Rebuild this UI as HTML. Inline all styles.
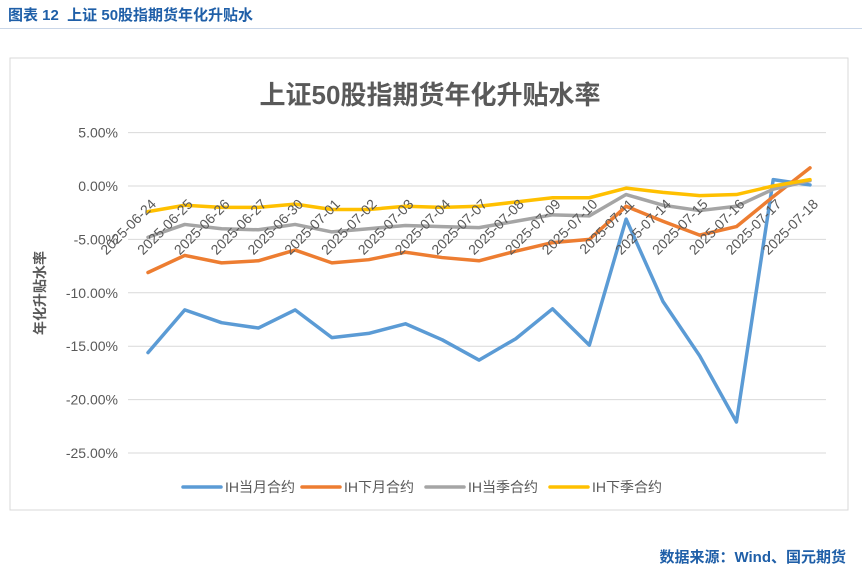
<!DOCTYPE html>
<html><head><meta charset="utf-8"><style>
body{margin:0;width:862px;height:578px;background:#fff;font-family:"Liberation Sans","Noto Sans CJK SC",sans-serif;overflow:hidden;position:relative}
#hdr{position:absolute;left:8px;top:4px;font-size:15px;font-weight:bold;color:#1f5fa8}
#hdrline{position:absolute;left:0;top:28px;width:862px;height:1px;background:#c9d6e8}
#src{position:absolute;right:16px;top:546px;font-size:15px;font-weight:bold;color:#1f5fa8}
svg{position:absolute;left:0;top:0}
</style></head><body>
<div id="hdr">图表 12 &nbsp;上证 50股指期货年化升贴水</div>
<div id="hdrline"></div>
<svg id="chart" width="862" height="578">
<rect x="10" y="58" width="838" height="452" fill="#fff" stroke="#d9d9d9"/>
<text x="430" y="104" text-anchor="middle" font-size="26" font-weight="bold" fill="#595959">上证50股指期货年化升贴水率</text>
<text transform="translate(45,293) rotate(-90)" text-anchor="middle" font-size="14" font-weight="bold" fill="#595959">年化升贴水率</text>
<g id="grid"></g><g id="series"></g><g id="xl"></g><g id="legend"></g>
</svg>
<div id="src">数据来源：Wind、国元期货</div>
<script>
const dates=["2025-06-24","2025-06-25","2025-06-26","2025-06-27","2025-06-30","2025-07-01","2025-07-02","2025-07-03","2025-07-04","2025-07-07","2025-07-08","2025-07-09","2025-07-10","2025-07-11","2025-07-14","2025-07-15","2025-07-16","2025-07-17","2025-07-18"];
const ihCurrent=[-15.6,-11.6,-12.8,-13.3,-11.6,-14.2,-13.8,-12.9,-14.4,-16.3,-14.3,-11.5,-14.9,-3.1,-10.8,-15.9,-22.1,0.6,0.1];
const ihNext=[-8.1,-6.5,-7.2,-7.0,-6.0,-7.2,-6.9,-6.2,-6.7,-7.0,-6.1,-5.3,-5.0,-1.9,-3.3,-4.6,-3.8,-1.0,1.7];
const ihQuarter=[-4.8,-3.6,-4.0,-4.1,-3.6,-4.3,-4.0,-3.7,-3.8,-3.9,-3.3,-2.7,-2.8,-0.8,-1.8,-2.3,-1.9,-0.3,0.5];
const ihNextQuarter=[-2.4,-1.8,-2.0,-2.0,-1.7,-2.2,-2.2,-1.9,-2.0,-1.9,-1.5,-1.1,-1.1,-0.2,-0.6,-0.9,-0.8,0.0,0.6];
const yTicks=[5,0,-5,-10,-15,-20,-25];
const seriesNames=["IH当月合约","IH下月合约","IH当季合约","IH下季合约"];
const NS="http://www.w3.org/2000/svg";
const x=i=>148+i*(810-148)/(dates.length-1);
const y=v=>186-v*(53.4/5);
function mk(t,a,p){const e=document.createElementNS(NS,t);for(const k in a)e.setAttribute(k,a[k]);p.appendChild(e);return e;}
const grid=document.getElementById('grid');
yTicks.forEach(v=>{
 const l=mk('line',{x1:128,x2:826,y1:y(v),y2:y(v),stroke:'#d9d9d9'},grid);
 
 
 const t=mk('text',{x:118,y:y(v)+5,'text-anchor':'end','font-size':14,fill:'#595959'},grid);
 t.textContent=v.toFixed(2)+'%';
 
 
});
const colors=["#5b9bd5","#ed7d31","#a5a5a5","#ffc000"];
const all=[ihCurrent,ihNext,ihQuarter,ihNextQuarter];
const sg=document.getElementById('series');
const xl=document.getElementById('xl');
dates.forEach((d,i)=>{
 const t=mk('text',{transform:`translate(${x(i)+9},${y(0)+19}) rotate(-45)`,'text-anchor':'end','font-size':14,fill:'#595959'},xl);
 t.textContent=d;
 
 
});
all.forEach((s,k)=>{
 const p=mk('polyline',{points:s.map((v,i)=>x(i)+','+y(v)).join(' '),fill:'none',stroke:colors[k],'stroke-width':3.5,'stroke-linejoin':'round','stroke-linecap':'round'},sg);
 
 
});
const lg=document.getElementById('legend');
const lx=[183,302,426,550];
seriesNames.forEach((n,k)=>{
 const l=mk('line',{x1:lx[k],x2:lx[k]+38,y1:487,y2:487,stroke:colors[k],'stroke-width':3.5,'stroke-linecap':'round'},lg);
 
 
 const t=mk('text',{x:lx[k]+42,y:492,'font-size':14,fill:'#595959'},lg);
 t.textContent=n;
 
 
});
</script>
</body></html>
